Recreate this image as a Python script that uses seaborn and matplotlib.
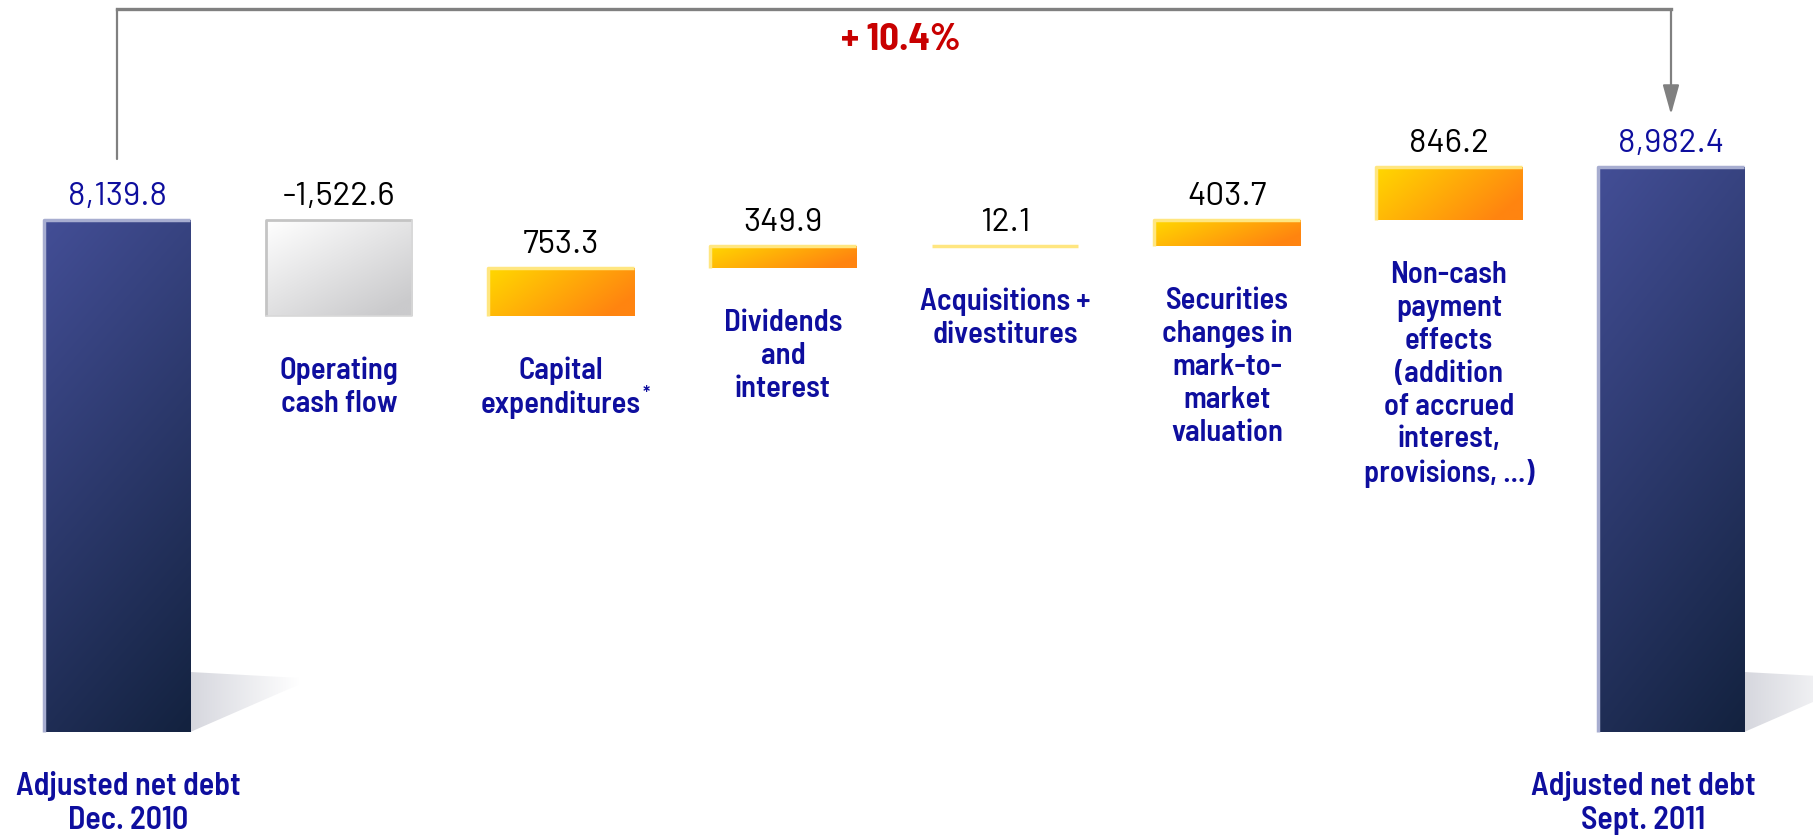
import numpy as np
import pandas as pd
import seaborn as sns
import matplotlib.pyplot as plt
import matplotlib.transforms as mtransforms
from matplotlib.patches import Polygon
from matplotlib.colors import to_rgb

# waterfall data (EUR m)
categories = ["Adjusted net debt\nDec. 2010", "Operating\ncash flow", "Capital\nexpenditures",
              "Dividends\nand\ninterest", "Acquisitions +\ndivestitures",
              "Securities\nchanges in\nmark-to-\nmarket\nvaluation",
              "Non-cash\npayment\neffects\n(addition\nof accrued\ninterest,\nprovisions, ...)",
              "Adjusted net debt\nSept. 2011"]
values = [8139.8, -1522.6, 753.3, 349.9, 12.1, 403.7, 846.2, 8982.4]
value_labels = ["8,139.8", "-1,522.6", "753.3", "349.9", "12.1", "403.7", "846.2", "8,982.4"]
kinds = ["total", "neg", "pos", "pos", "pos", "pos", "pos", "total"]
change_label = "+ 10.4%"

# floating bar geometry
bottoms, heights = [], []
level = 0
for v, k in zip(values, kinds):
    if k == "total":
        bottoms.append(0)
        heights.append(v)
        level = v
    else:
        bottoms.append(min(level, level + v))
        heights.append(abs(v))
        level += v

sns.set_theme(style="white")
plt.rcParams['font.family'] = ['Barlow Semi Condensed', 'Roboto Condensed', 'DejaVu Sans']
plt.rcParams['font.stretch'] = 'condensed'
NUM_FONT = ['Barlow', 'Roboto', 'DejaVu Sans']

BLUE = "#0e0e9e"
GREY = "#808080"

fig = plt.figure(figsize=(18.13, 8.37), dpi=100)
ax = fig.add_axes([0, 0, 1, 1])

df = pd.DataFrame({"step": range(len(values)), "height": heights})
sns.barplot(data=df, x="step", y="height", width=0.66, color="white", errorbar=None, ax=ax)

PX = 15.9          # data units per pixel (y)
XPX = 1 / 222      # data units per pixel (x)


def gradient(c0, c1, wx, wy, n=80):
    yy, xx = np.mgrid[0:1:n * 1j, 0:1:n * 1j]
    t = np.clip(wx * xx + wy * yy, 0, 1)[..., None]
    return (1 - t) * np.array(to_rgb(c0)) + t * np.array(to_rgb(c1))


styles = {
    "total": dict(c0="#434e96", c1="#13223f", wx=0.25, wy=0.75, edge="#a7add0"),
    "pos": dict(c0="#ffd800", c1="#ff8410", wx=0.8, wy=0.35, edge="#ffe680"),
    "neg": dict(c0="#ffffff", c1="#cacacc", wx=0.5, wy=0.6, edge="#c4c4c4"),
}

for i, p in enumerate(ax.patches):
    p.set_y(bottoms[i])
    p.set_height(heights[i])
    p.set_facecolor("none")
    p.set_edgecolor("none")
    st = styles[kinds[i]]
    x0, w = p.get_x(), p.get_width()
    y0, y1 = bottoms[i], bottoms[i] + heights[i]
    im = ax.imshow(gradient(st["c0"], st["c1"], st["wx"], st["wy"]),
                   extent=[x0, x0 + w, y0, y1], aspect="auto", zorder=2,
                   interpolation="bilinear")
    im.set_clip_path(p)
    # light highlight on top and left edges
    lw = 2.5 if kinds[i] != "neg" else 2
    ax.plot([x0, x0, x0 + w], [y0, y1, y1], color=st["edge"], lw=lw, zorder=3,
            solid_capstyle="butt")
    if kinds[i] == "neg":
        ax.plot([x0 + w, x0 + w, x0], [y1, y0, y0], color="#d8d8d8", lw=1.2, zorder=3)
    if kinds[i] == "total":
        # soft floor shadow
        xr = x0 + w
        shadow = Polygon([(xr, 0), (xr + 110 * XPX, 48 * PX), (xr + 110 * XPX, 54 * PX),
                          (xr, 60 * PX)], closed=True, facecolor="none", edgecolor="none")
        ax.add_patch(shadow)
        sim = ax.imshow(gradient("#d6d7de", "#ffffff", 1.0, 0.0),
                        extent=[xr, xr + 110 * XPX, 0, 60 * PX], aspect="auto",
                        zorder=1, interpolation="bilinear")
        sim.set_clip_path(shadow)

# value labels
for i, lab in enumerate(value_labels):
    ax.annotate(lab, xy=(i, bottoms[i] + heights[i]), xytext=(0, 24),
                textcoords="offset pixels", ha="center", va="center", fontsize=24,
                family=NUM_FONT, fontstretch="normal",
                color=BLUE if kinds[i] == "total" else "black", zorder=5)

# category labels
cap_text = None
for i, lab in enumerate(categories):
    if kinds[i] == "total":
        dx = 11 if i == 0 else -28
        ax.annotate(lab, xy=(i, 0), xytext=(dx, -70), textcoords="offset pixels",
                    ha="center", va="center", fontsize=23, fontweight="semibold",
                    color=BLUE, linespacing=1.2)
    else:
        t = ax.annotate(lab, xy=(i, bottoms[i]), xytext=(0, -40), textcoords="offset pixels",
                        ha="center", va="top", fontsize=22, fontweight="semibold",
                        color=BLUE, linespacing=1.22)
        if i == 2:
            cap_text = t

# bracket with the total change
trans = mtransforms.blended_transform_factory(ax.transData, ax.transAxes)
ax.plot([0, 0], [0.809, 0.988], color=GREY, lw=1.6, transform=trans, clip_on=False)
ax.plot([0, len(values) - 1], [0.988, 0.988], color=GREY, lw=2.4, transform=trans,
        solid_capstyle="projecting", clip_on=False)
ax.annotate("", xy=(len(values) - 1, 0.862), xytext=(len(values) - 1, 0.988),
            xycoords=trans, textcoords=trans,
            arrowprops=dict(arrowstyle="-|>,head_length=0.9,head_width=0.25", color=GREY,
                            lw=1.6, mutation_scale=20, shrinkA=0, shrinkB=0))
ax.text(3.53, 0.952, change_label, transform=trans, ha="center", va="center",
        fontsize=28, fontweight="bold", color="#c80000")

ax.set_xlim(-117 / 222, (1813 - 117) / 222)
ax.set_ylim(-104 * PX, 733 * PX)
ax.axis("off")

# superscript asterisk after "expenditures"
fig.canvas.draw()
bb = cap_text.get_window_extent()
fig.text(bb.x1 / fig.bbox.width + 0.001, (bb.y0 + 34) / fig.bbox.height, "*",
         fontsize=14, fontweight="semibold", color=BLUE, ha="left", va="top")

fig.savefig("out.png", dpi=100)
